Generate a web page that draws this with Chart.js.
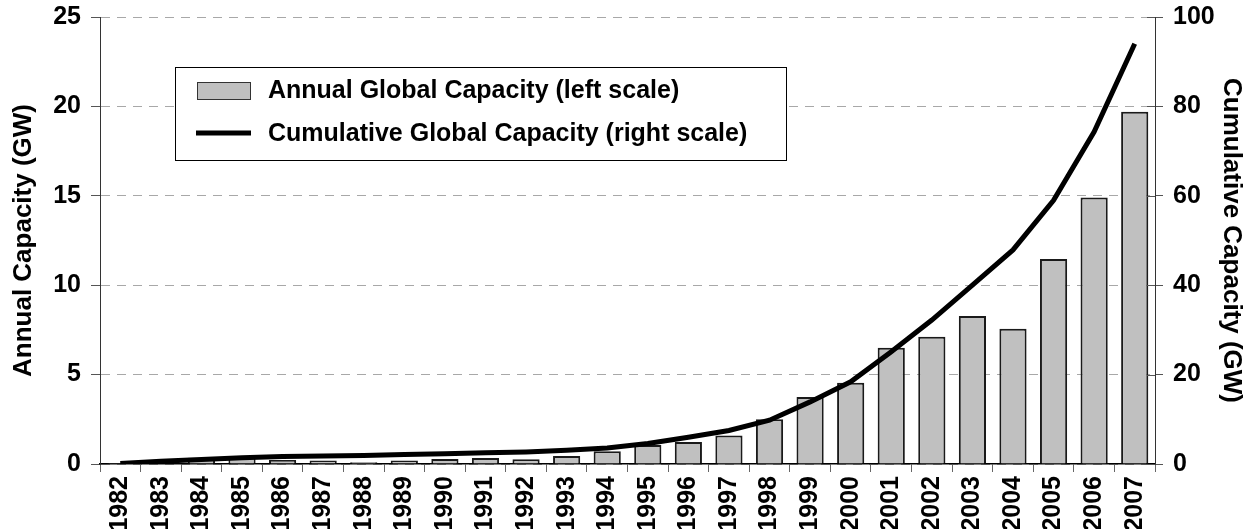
<!DOCTYPE html>
<html>
<head>
<meta charset="utf-8">
<script src="https://cdn.jsdelivr.net/npm/chart.js@4"></script>
<style>
  html, body { margin: 0; padding: 0; background: #fff; }
  #wrap { width: 1255px; height: 529px; }
</style>
</head>
<body>
<div id="wrap"><canvas id="windChart" width="1255" height="529"></canvas></div>
<script>
    // data
    const years = ["1982", "1983", "1984", "1985", "1986", "1987", "1988", "1989", "1990",
        "1991", "1992", "1993", "1994", "1995", "1996", "1997", "1998", "1999", "2000",
        "2001", "2002", "2003", "2004", "2005", "2006", "2007"];
    const annualGW = [0.05, 0.02, 0.35, 0.45, 0.22, 0.19, 0.1, 0.19, 0.28, 0.33, 0.26, 0.45,
        0.71, 1.06, 1.23, 1.6, 2.5, 3.75, 4.55, 6.5, 7.12, 8.28, 7.57, 11.47, 14.9, 19.7];
    const cumulativeGW = [0.1, 0.6, 1.0, 1.4, 1.7, 1.8, 1.9, 2.1, 2.3, 2.5, 2.7, 3.1, 3.6,
        4.6, 6.0, 7.5, 9.8, 13.9, 18.4, 25.1, 32.2, 40.0, 47.9, 59.0, 74.3, 94.0];
    const leftTicks = [0, 5, 10, 15, 20, 25];
    const rightTicks = [0, 20, 40, 60, 80, 100];

    const FONT = "'Liberation Sans', Arial, sans-serif";

    // legend box drawn inside the plot, like the original
    const boxLegend = {
        id: "boxLegend",
        afterDraw(chart) {
            const ctx = chart.ctx;
            const sets = chart.data.datasets;
            ctx.save();
            ctx.fillStyle = "#fff";
            ctx.fillRect(175, 67, 611, 93);
            ctx.strokeStyle = "#000";
            ctx.lineWidth = 1;
            ctx.strokeRect(175.5, 67.5, 611, 93);

            ctx.fillStyle = "#c0c0c0";
            ctx.fillRect(197, 82, 53, 17);
            ctx.strokeStyle = "#333";
            ctx.strokeRect(197.5, 82.5, 53, 17);

            ctx.beginPath();
            ctx.moveTo(196, 133);
            ctx.lineTo(251, 133);
            ctx.lineWidth = 5;
            ctx.strokeStyle = "#000";
            ctx.stroke();

            ctx.fillStyle = "#000";
            ctx.font = "bold 25px " + FONT;
            ctx.textBaseline = "middle";
            ctx.fillText(sets[0].label, 268, 91);
            ctx.fillText(sets[1].label, 268, 134);
            ctx.restore();
        }
    };

    // right axis tick marks cross the axis line
    const innerTicks = {
        id: "innerTicks",
        afterDraw(chart) {
            const s = chart.scales.y1;
            const ctx = chart.ctx;
            ctx.save();
            ctx.strokeStyle = "#555";
            ctx.lineWidth = 1;
            s.ticks.forEach(t => {
                const py = Math.round(s.getPixelForValue(t.value)) + 0.5;
                ctx.beginPath();
                ctx.moveTo(s.left - 8, py);
                ctx.lineTo(s.left, py);
                ctx.stroke();
            });
            ctx.restore();
        }
    };

    function fixWidth(scale) {
        scale.width = 100;
        scale.paddingTop = 0;
        scale.paddingBottom = 0;
    }

    new Chart(document.getElementById("windChart"), {
        data: {
            labels: years,
            datasets: [
                {
                    type: "bar",
                    label: "Annual Global Capacity (left scale)",
                    data: annualGW,
                    yAxisID: "y",
                    backgroundColor: "#c0c0c0",
                    borderColor: "#1a1a1a",
                    borderWidth: 2,
                    barPercentage: 0.67,
                    categoryPercentage: 1,
                    order: 1
                },
                {
                    type: "line",
                    label: "Cumulative Global Capacity (right scale)",
                    data: cumulativeGW,
                    yAxisID: "y1",
                    borderColor: "#000",
                    borderWidth: 5,
                    pointRadius: 0,
                    tension: 0,
                    fill: false,
                    order: 0
                }
            ]
        },
        options: {
            responsive: false,
            animation: false,
            layout: { padding: { top: 17, left: 0, right: 0, bottom: 0 } },
            plugins: {
                legend: { display: false },
                tooltip: { enabled: false }
            },
            scales: {
                x: {
                    offset: true,
                    grid: { offset: true, drawOnChartArea: false, tickLength: 8, color: "#666" },
                    border: { color: "#000", width: 1.5 },
                    ticks: {
                        color: "#000",
                        font: { family: FONT, size: 25, weight: "bold" },
                        minRotation: 90,
                        maxRotation: 90,
                        autoSkip: false,
                        padding: 4
                    },
                    afterFit(scale) { scale.height = 65; }
                },
                y: {
                    position: "left",
                    min: 0,
                    max: 25,
                    afterBuildTicks(scale) { scale.ticks = leftTicks.map(v => ({ value: v })); },
                    grid: {
                        color: "#a8a8a8",
                        tickLength: 9,
                        tickColor: "#555",
                        tickBorderDash: []
                    },
                    border: { color: "#333", width: 1, dash: [9, 7] },
                    ticks: {
                        color: "#000",
                        font: { family: FONT, size: 25, weight: "bold" },
                        padding: 10
                    },
                    title: {
                        display: true,
                        text: "Annual Capacity (GW)",
                        color: "#000",
                        font: { family: FONT, size: 26, weight: "bold" },
                        padding: { top: 8, bottom: 0 }
                    },
                    afterFit: fixWidth
                },
                y1: {
                    position: "right",
                    min: 0,
                    max: 100,
                    afterBuildTicks(scale) { scale.ticks = rightTicks.map(v => ({ value: v })); },
                    grid: { drawOnChartArea: false, tickLength: 8, color: "#555" },
                    border: { color: "#333", width: 1 },
                    ticks: {
                        color: "#000",
                        font: { family: FONT, size: 25, weight: "bold" },
                        padding: 10
                    },
                    title: {
                        display: true,
                        text: "Cumulative Capacity (GW)",
                        color: "#000",
                        font: { family: FONT, size: 26, weight: "bold" },
                        padding: { top: 8, bottom: 0 }
                    },
                    afterFit: fixWidth
                }
            }
        },
        plugins: [boxLegend, innerTicks]
    });
</script>
</body>
</html>
